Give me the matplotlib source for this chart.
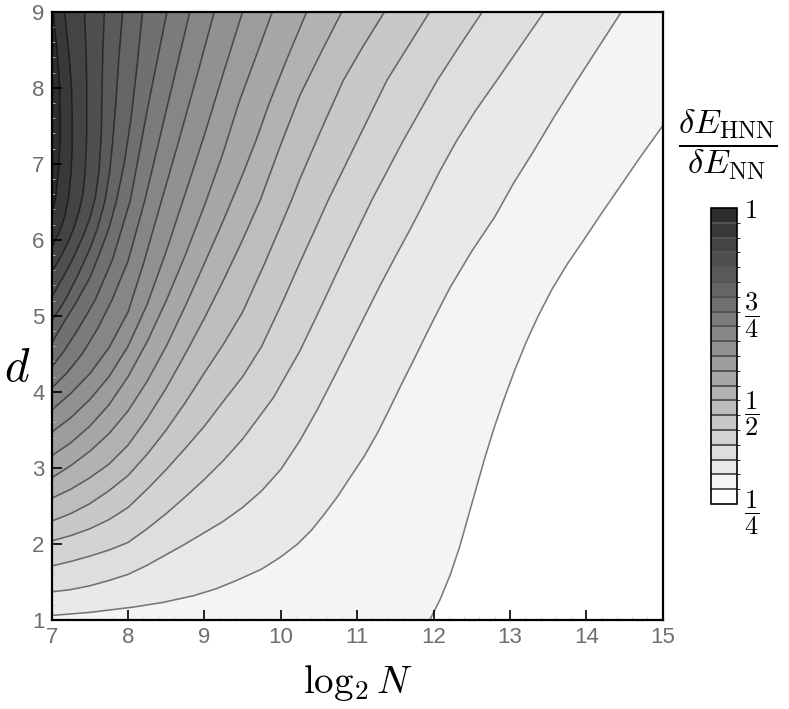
import numpy as np
import matplotlib
matplotlib.use('Agg')
import matplotlib.pyplot as plt
from matplotlib.colors import ListedColormap, BoundaryNorm
from matplotlib.cm import ScalarMappable
from matplotlib.patches import Polygon
from matplotlib.ticker import MultipleLocator

plt.rcParams['mathtext.fontset'] = 'cm'

# contour lines, as (log2 N, d) points,
# from the upper/right end of each line to its left/lower end
line_01 = [(15, 7.5), (14.7, 7.08), (14.44, 6.7), (14.2, 6.35), (13.96, 5.99), (13.75, 5.68),
           (13.55, 5.35), (13.37, 5.0), (13.21, 4.65), (13.06, 4.28), (12.92, 3.9), (12.79, 3.52),
           (12.67, 3.13), (12.56, 2.74), (12.45, 2.35), (12.34, 1.96), (12.22, 1.6), (12.09, 1.28),
           (11.95, 1.0)]
line_02 = [(14.46, 9), (14.15, 8.52), (13.88, 8.1), (13.58, 7.62), (13.3, 7.15), (13.05, 6.75),
           (12.8, 6.3), (12.5, 5.85), (12.22, 5.38), (12.05, 5.05), (11.91, 4.77), (11.73, 4.4),
           (11.56, 4.06), (11.41, 3.75), (11.26, 3.45), (11.09, 3.15), (10.91, 2.88), (10.74, 2.62),
           (10.56, 2.38), (10.4, 2.18), (10.22, 2.0), (10.0, 1.83), (9.75, 1.67), (9.42, 1.52),
           (9.15, 1.41), (8.86, 1.32), (8.45, 1.23), (8.07, 1.17), (7.5, 1.1), (7, 1.06)]
line_03 = [(13.45, 9), (13.14, 8.55), (12.83, 8.1), (12.55, 7.7), (12.3, 7.3), (12.08, 6.9),
           (11.89, 6.52), (11.7, 6.15), (11.5, 5.78), (11.3, 5.4), (11.1, 5.0), (10.9, 4.6),
           (10.7, 4.2), (10.48, 3.77), (10.25, 3.36), (10.0, 2.98), (9.75, 2.7), (9.5, 2.48),
           (9.25, 2.3), (9.0, 2.15), (8.75, 2.0), (8.5, 1.86), (8.25, 1.72), (8.0, 1.6), (7.75, 1.52),
           (7.5, 1.45), (7.25, 1.4), (7, 1.37)]
line_04 = [(12.64, 9), (12.34, 8.55), (12.05, 8.1), (11.6, 7.3), (11.19, 6.52), (10.82, 5.75),
           (10.47, 5.0), (10.25, 4.54), (9.9, 3.92), (9.5, 3.38), (9.25, 3.1), (9.0, 2.85),
           (8.75, 2.62), (8.5, 2.4), (8.25, 2.2), (8.0, 2.02), (7.75, 1.92), (7.5, 1.84), (7.25, 1.77),
           (7, 1.71)]
line_05 = [(11.95, 9), (11.67, 8.55), (11.39, 8.1), (11.0, 7.3), (10.62, 6.52), (10.44, 6.12),
           (10.25, 5.7), (10.03, 5.2), (9.75, 4.6), (9.5, 4.2), (9.25, 3.88), (9.0, 3.55), (8.75, 3.26),
           (8.5, 2.98), (8.25, 2.72), (8.0, 2.48), (7.75, 2.32), (7.5, 2.2), (7.25, 2.11), (7, 2.04)]
line_06 = [(11.36, 9), (11.08, 8.55), (10.82, 8.1), (10.53, 7.45), (10.25, 6.8), (10.14, 6.52),
           (9.98, 6.14), (9.78, 5.67), (9.5, 5.05), (9.25, 4.63), (9.0, 4.25), (8.75, 3.86), (8.5, 3.5),
           (8.25, 3.18), (8.0, 2.9), (7.75, 2.7), (7.5, 2.53), (7.25, 2.4), (7, 2.30)]
line_07 = [(10.80, 9), (10.52, 8.45), (10.25, 7.9), (9.98, 7.2), (9.73, 6.52), (9.5, 6.0),
           (9.25, 5.47), (9.0, 4.97), (8.75, 4.5), (8.5, 4.05), (8.25, 3.65), (8.0, 3.3), (7.75, 3.05),
           (7.5, 2.87), (7.25, 2.72), (7, 2.60)]
line_08 = [(10.34, 9), (10.08, 8.38), (9.85, 7.8), (9.68, 7.32), (9.5, 6.86), (9.25, 6.26),
           (9.0, 5.69), (8.75, 5.13), (8.5, 4.6), (8.25, 4.14), (8.0, 3.75), (7.75, 3.45), (7.5, 3.22),
           (7.25, 3.03), (7, 2.87)]
line_09 = [(9.89, 9), (9.67, 8.4), (9.45, 7.8), (9.24, 7.13), (9.0, 6.45), (8.75, 5.8), (8.5, 5.2),
           (8.25, 4.66), (8.0, 4.2), (7.75, 3.83), (7.5, 3.55), (7.25, 3.33), (7, 3.16)]
line_10 = [(9.5, 9), (9.25, 8.2), (9.0, 7.38), (8.72, 6.52), (8.5, 5.85), (8.25, 5.15), (8.0, 4.6),
           (7.75, 4.2), (7.5, 3.9), (7.25, 3.66), (7, 3.47)]
line_11 = [(9.13, 9), (8.9, 8.15), (8.65, 7.25), (8.44, 6.52), (8.2, 5.68), (8.0, 5.05),
           (7.75, 4.58), (7.5, 4.24), (7.25, 3.98), (7, 3.76)]
line_12 = [(8.81, 9), (8.5, 7.7), (8.22, 6.52), (8.0, 5.72), (7.79, 5.21), (7.6, 4.83), (7.4, 4.5),
           (7.2, 4.25), (7, 4.05)]
line_13 = [(8.51, 9), (8.26, 7.75), (8.03, 6.52), (7.8, 5.75), (7.57, 5.21), (7.45, 5.0),
           (7.3, 4.75), (7.15, 4.52), (7, 4.33)]
line_14 = [(8.19, 9), (8.12, 8.3), (8.04, 7.6), (7.95, 7.0), (7.85, 6.52), (7.75, 6.15), (7.62, 5.8),
           (7.5, 5.5), (7.34, 5.21), (7.15, 4.9), (7, 4.64)]
line_15 = [(7.93, 9), (7.88, 8.4), (7.84, 7.8), (7.8, 7.3), (7.76, 6.9), (7.7, 6.52), (7.6, 6.15),
           (7.5, 5.88), (7.35, 5.55), (7.2, 5.25), (7.1, 5.08), (7, 4.94)]
line_16 = [(7.69, 9), (7.67, 8.5), (7.66, 8.0), (7.65, 7.4), (7.62, 6.9), (7.57, 6.55), (7.5, 6.28),
           (7.4, 6.02), (7.3, 5.8), (7.2, 5.6), (7.1, 5.42), (7, 5.25)]
line_17 = [(7.43, 9), (7.45, 8.5), (7.46, 8.0), (7.46, 7.4), (7.44, 6.9), (7.41, 6.6), (7.36, 6.38),
           (7.3, 6.18), (7.22, 5.98), (7.12, 5.78), (7, 5.57)]
line_18 = [(7.17, 9), (7.2, 8.7), (7.23, 8.4), (7.26, 8.0), (7.27, 7.6), (7.27, 7.2), (7.25, 6.85),
           (7.22, 6.55), (7.17, 6.3), (7.1, 6.1), (7, 5.9)]
line_19 = [(7.02, 9), (7.04, 8.8), (7.07, 8.5), (7.1, 8.1), (7.11, 7.7), (7.11, 7.3), (7.09, 6.9),
           (7.05, 6.55), (7, 6.3)]

contour_lines = [line_01, line_02, line_03, line_04, line_05, line_06, line_07, line_08, line_09,
                 line_10, line_11, line_12, line_13, line_14, line_15, line_16, line_17, line_18,
                 line_19]

x_min, x_max = 7, 15
d_min, d_max = 1, 9
z_min, z_max = 0.25, 1.0
n_bands = 20
cbar_ticks = [0.25, 0.5, 0.75, 1.0]
cbar_labels = [r'$\dfrac{1}{4}$', r'$\dfrac{1}{2}$', r'$\dfrac{3}{4}$', r'$1$']

grays = np.linspace(1.0, 0.18, n_bands)
band_colors = [(g, g, g) for g in grays]


def region(pts):
    # area above/left of a contour line, closed along the frame
    poly = list(pts)
    if pts[-1][1] <= d_min:
        poly.append((x_min, d_min))
    poly.append((x_min, d_max))
    if pts[0][0] >= x_max:
        poly.append((x_max, d_max))
    return poly


fig = plt.figure(figsize=(7.89, 7.09), dpi=100)
ax = fig.add_axes([0.0655, 0.1255, 0.7745, 0.858])
ax.set_facecolor(band_colors[0])

for k, pts in enumerate(contour_lines):
    ax.add_patch(Polygon(region(pts), closed=True, facecolor=band_colors[k + 1],
                         edgecolor='none', zorder=1))
for pts in contour_lines:
    xs, ys = zip(*pts)
    ax.plot(xs, ys, color='black', alpha=0.5, lw=1.15, zorder=2,
            solid_joinstyle='round', solid_capstyle='round')

ax.set_xlim(x_min, x_max)
ax.set_ylim(d_min, d_max)
ax.xaxis.set_major_locator(MultipleLocator(1))
ax.yaxis.set_major_locator(MultipleLocator(1))
ax.xaxis.set_minor_locator(MultipleLocator(0.2))
ax.yaxis.set_minor_locator(MultipleLocator(0.2))
ax.tick_params(which='major', direction='in', length=7, width=1.2, color='black',
               labelsize=16, labelcolor='#6e6e6e', pad=5, top=False, right=False)
ax.tick_params(which='minor', direction='in', length=2.5, width=0.6, color='#c8c8c8',
               top=False, right=False)
for lab in ax.get_xticklabels() + ax.get_yticklabels():
    lab.set_family('Liberation Sans')
for sp in ax.spines.values():
    sp.set_linewidth(1.6)
    sp.set_zorder(5)

fig.text(358 / 789, 1 - 683 / 709, r'$\log_2 N$', fontsize=28, ha='center', va='center')
fig.text(17 / 789, 1 - 368 / 709, r'$d$', fontsize=34, ha='center', va='center')

# bar legend
cax = fig.add_axes([0.901, 0.2891, 0.033, 0.4175])
cmap = ListedColormap(band_colors)
norm = BoundaryNorm(np.linspace(z_min, z_max, n_bands + 1), n_bands)
cb = fig.colorbar(ScalarMappable(norm=norm, cmap=cmap), cax=cax, drawedges=True, ticks=cbar_ticks)
cb.dividers.set_color('#555555')
cb.dividers.set_linewidth(1.4)
cb.outline.set_linewidth(1.2)
cax.tick_params(length=0, labelsize=19, pad=5)
cax.set_yticklabels(cbar_labels)

fig.text(728 / 789, 1 - 145 / 709, r'$\dfrac{\delta E_{\mathrm{HNN}}}{\delta E_{\mathrm{NN}}}$',
         fontsize=25, ha='center', va='center')

fig.savefig('out.png', dpi=100)
